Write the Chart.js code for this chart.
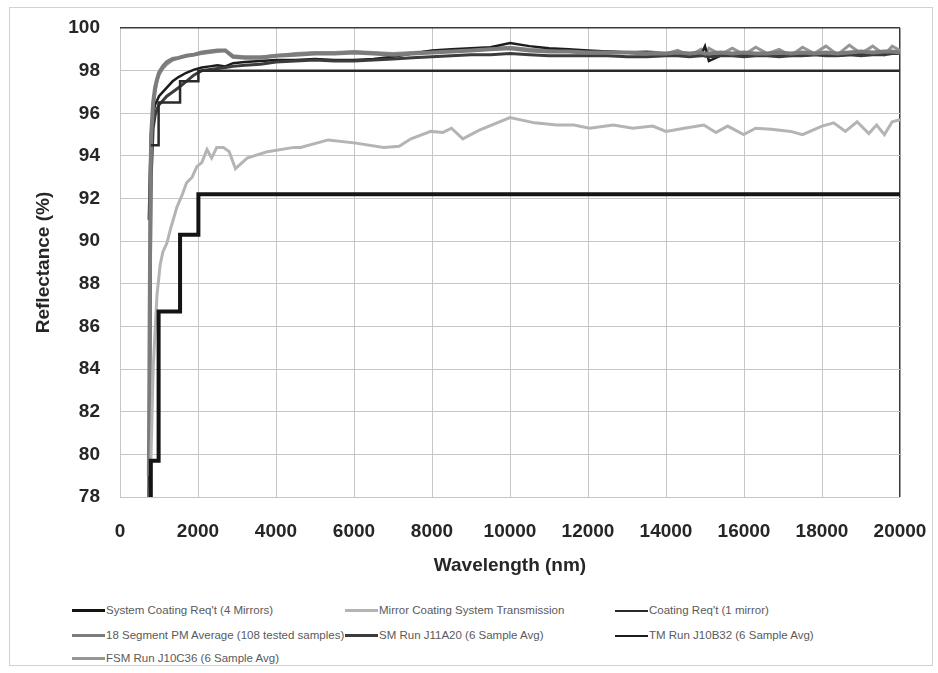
<!DOCTYPE html>
<html>
<head>
<meta charset="utf-8">
<title>Reflectance vs Wavelength</title>
<script src="https://cdn.jsdelivr.net/npm/chart.js@4.4.1/dist/chart.umd.min.js"></script>
<style>
  body { margin: 0; background: #fff; }
  #wrap { position: relative; width: 938px; height: 673px; overflow: hidden; }
  #frame { position: absolute; left: 9px; top: 7px; width: 922px; height: 657px; border: 1px solid #d2d2d2; }
  #reflChart { position: absolute; left: 0; top: 0; }
  .leg { position: absolute; font-family: 'Liberation Sans', Arial, sans-serif; font-size: 11.5px; color: #5a5a5a; white-space: nowrap; line-height: 14px; }
  .leg span.swatch { display: inline-block; width: 33px; vertical-align: middle; margin-right: 1px; }
</style>
</head>
<body>
<div id="wrap">
  <div id="frame"></div>
  <canvas id="reflChart" width="938" height="590"></canvas>
  <div id="legend"></div>
</div>
<script>
// requirement steps (shared wavelengths)
const stepWl = [790, 790, 990, 1540, 2010, 20000];
const req4Mirrors = [78, 79.7, 86.7, 90.3, 92.2, 92.2];
const req1Mirror = [94.5, 94.5, 96.5, 97.5, 98.0, 98.0];

// mirror coating system transmission
const transWl = [770, 800, 850, 900, 950, 1030, 1100, 1200, 1300, 1460, 1600, 1710, 1850, 1970, 2100,
  2230, 2350, 2480, 2650, 2800, 2960, 3260, 3780, 4460, 4630, 5340, 6050, 6760, 7160, 7460,
  7970, 8280, 8500, 8790, 9200, 10000, 10630, 11200, 11640, 12040, 12650, 13150, 13660, 14000, 14470,
  14970, 15280, 15580, 15990, 16300, 16700, 17200, 17500, 18000, 18300, 18600, 18900, 19200, 19400, 19600,
  19800, 20000];
const transVal = [78.0, 80.3, 84.0, 85.8, 87.5, 88.9, 89.5, 89.9, 90.6, 91.6, 92.2, 92.75, 93.0, 93.5, 93.7,
  94.3, 93.9, 94.4, 94.4, 94.2, 93.4, 93.9, 94.2, 94.4, 94.4, 94.75, 94.6, 94.4, 94.45, 94.8,
  95.15, 95.1, 95.3, 94.8, 95.2, 95.8, 95.55, 95.45, 95.45, 95.3, 95.45, 95.3, 95.4, 95.15, 95.3,
  95.45, 95.1, 95.4, 95.0, 95.3, 95.25, 95.15, 95.0, 95.4, 95.55, 95.15, 95.6, 95.05, 95.45, 95.0,
  95.6, 95.7];

// measured runs (shared wavelengths)
const measWl = [
  740, 760, 780, 800, 850, 900, 950, 1000,
  1100, 1200, 1350, 1500, 1700, 1900, 2100, 2300,
  2500, 2700, 2900, 3200, 3600, 4000, 4500, 5000,
  5500, 6000, 6500, 7000, 7500, 8000, 8500, 9000,
  9500, 10000, 10500, 11000, 11500, 12000, 12500, 13000,
  13500, 14000, 14300, 14600, 14900, 15000, 15100, 15400,
  15700, 16000, 16300, 16600, 16900, 17200, 17500, 17800,
  18100, 18400, 18700, 19000, 19300, 19600, 19800, 20000];
const pmAvg = [
  79.0, 86.0, 92.5, 95.0, 96.5, 97.2, 97.6, 97.9,
  98.2, 98.4, 98.55, 98.6, 98.7, 98.75, 98.85, 98.9,
  98.95, 98.95, 98.65, 98.6, 98.6, 98.7, 98.75, 98.8,
  98.8, 98.85, 98.8, 98.75, 98.8, 98.85, 98.9, 98.95,
  99.0, 99.05, 98.95, 98.9, 98.9, 98.85, 98.85, 98.85,
  98.8, 98.8, 98.85, 98.8, 98.85, 98.8, 98.8, 98.85,
  98.8, 98.85, 98.8, 98.8, 98.85, 98.8, 98.85, 98.8,
  98.85, 98.8, 98.85, 98.9, 98.85, 98.9, 98.9, 98.85];
const smRun = [
  78.0, 82.0, 89.0, 93.0, 95.3, 95.9, 96.2, 96.4,
  96.6, 96.8, 97.0, 97.2, 97.5, 97.8, 98.0, 98.05,
  98.1, 98.15, 98.2, 98.25, 98.3, 98.4, 98.45, 98.5,
  98.45, 98.45, 98.5, 98.55, 98.6, 98.65, 98.7, 98.75,
  98.75, 98.8, 98.75, 98.7, 98.7, 98.7, 98.7, 98.65,
  98.65, 98.7, 98.7, 98.65, 98.7, 98.7, 98.65, 98.7,
  98.7, 98.65, 98.7, 98.7, 98.65, 98.7, 98.7, 98.75,
  98.7, 98.7, 98.75, 98.7, 98.75, 98.75, 98.8, 98.8];
const tmRun = [
  91.0, 92.8, 94.2, 95.2, 96.0, 96.4, 96.6, 96.8,
  97.0, 97.2, 97.5, 97.7, 97.9, 98.05, 98.15, 98.2,
  98.25, 98.2, 98.35, 98.4, 98.45, 98.5, 98.5, 98.55,
  98.5, 98.5, 98.55, 98.65, 98.8, 98.95, 99.0, 99.05,
  99.1, 99.3, 99.15, 99.05, 99.0, 98.95, 98.9, 98.85,
  98.85, 98.8, 98.75, 98.8, 98.75, 99.15, 98.45, 98.7,
  98.75, 98.7, 98.75, 98.7, 98.7, 98.75, 98.7, 98.75,
  98.75, 98.7, 98.75, 98.8, 98.75, 98.8, 98.8, 98.85];
const fsmRun = [
  78.0, 84.0, 91.5, 94.5, 96.2, 97.0, 97.5, 97.8,
  98.1, 98.3, 98.5, 98.6, 98.7, 98.75, 98.8, 98.85,
  98.9, 98.95, 98.7, 98.65, 98.65, 98.7, 98.8, 98.85,
  98.85, 98.9, 98.85, 98.8, 98.85, 98.9, 98.95, 99.0,
  99.05, 99.1, 99.0, 98.95, 98.9, 98.85, 98.9, 98.85,
  98.9, 98.8, 98.95, 98.7, 99.0, 98.7, 99.05, 98.75,
  99.05, 98.75, 99.1, 98.8, 99.0, 98.7, 99.1, 98.8,
  99.15, 98.75, 99.2, 98.8, 99.15, 98.75, 99.15, 98.95];

const xTicks = [0, 2000, 4000, 6000, 8000, 10000, 12000, 14000, 16000, 18000, 20000];
const yTicks = [78, 80, 82, 84, 86, 88, 90, 92, 94, 96, 98, 100];

function pts(xs, ys) {
  return xs.map((x, i) => ({ x: x, y: ys[i] }));
}

document.addEventListener('DOMContentLoaded', () => {
  const tickFont = { family: "'Liberation Sans', Arial, sans-serif", size: 19, weight: 'bold' };

  const ctx = document.getElementById('reflChart').getContext('2d');
  const reflChart = new Chart(ctx, {
    type: 'line',
    data: {
      datasets: [
        { label: "System Coating Req't (4 Mirrors)", data: pts(stepWl, req4Mirrors), borderColor: '#141414', borderWidth: 4, stepped: 'before' },
        { label: 'Mirror Coating System Transmission', data: pts(transWl, transVal), borderColor: '#b4b4b4', borderWidth: 3 },
        { label: "Coating Req't (1 mirror)", data: pts(stepWl, req1Mirror), borderColor: '#2a2a2a', borderWidth: 2.5, stepped: 'before' },
        { label: '18 Segment PM Average (108 tested samples)', data: pts(measWl, pmAvg), borderColor: '#7c7c7c', borderWidth: 4 },
        { label: 'SM Run J11A20 (6 Sample Avg)', data: pts(measWl, smRun), borderColor: '#3c3c3c', borderWidth: 3 },
        { label: 'TM Run J10B32 (6 Sample Avg)', data: pts(measWl, tmRun), borderColor: '#1c1c1c', borderWidth: 2.5 },
        { label: 'FSM Run J10C36 (6 Sample Avg)', data: pts(measWl, fsmRun), borderColor: '#969696', borderWidth: 3 }
      ]
    },
    options: {
      responsive: false,
      animation: false,
      events: [],
      elements: { point: { radius: 0 }, line: { tension: 0 } },
      layout: { padding: { top: 28, right: 38, left: 0, bottom: 0 } },
      plugins: { legend: { display: false }, tooltip: { enabled: false } },
      scales: {
        x: {
          type: 'linear',
          min: 0,
          max: 20000,
          afterBuildTicks: (scale) => { scale.ticks = xTicks.map(v => ({ value: v })); },
          afterFit: (scale) => { scale.height = 93; scale.paddingLeft = 0; scale.paddingRight = 0; },
          ticks: { color: '#262626', font: tickFont, padding: 23, maxRotation: 0, callback: (v) => String(v) },
          grid: { drawTicks: false, color: (c) => c.tick && c.tick.value === 20000 ? '#3a3a3a' : '#c6c6c6', lineWidth: (c) => c.tick && c.tick.value === 20000 ? 1.5 : 1 },
          border: { display: false },
          title: { display: true, text: 'Wavelength (nm)', color: '#262626', font: tickFont, padding: { top: 0, bottom: 13 } }
        },
        y: {
          min: 78,
          max: 100,
          afterBuildTicks: (scale) => { scale.ticks = yTicks.map(v => ({ value: v })); },
          afterFit: (scale) => { scale.width = 120; scale.paddingTop = 0; scale.paddingBottom = 0; },
          ticks: { color: '#262626', font: tickFont, padding: 20 },
          grid: { drawTicks: false, color: (c) => c.tick && c.tick.value === 100 ? '#3a3a3a' : '#c6c6c6', lineWidth: (c) => c.tick && c.tick.value === 100 ? 1.5 : 1 },
          border: { display: false },
          title: { display: true, text: 'Reflectance (%)', color: '#262626', font: tickFont, padding: { top: 32, bottom: 0 } }
        }
      }
    }
  });

  // legend laid out in three columns like the original
  const colX = [72, 345, 615];
  const rowY = [603, 628, 651];
  const legend = document.getElementById('legend');
  reflChart.data.datasets.forEach((ds, i) => {
    const item = document.createElement('div');
    item.className = 'leg';
    item.style.left = colX[i % 3] + 'px';
    item.style.top = rowY[Math.floor(i / 3)] + 'px';
    const sw = document.createElement('span');
    sw.className = 'swatch';
    sw.style.borderTop = Math.min(ds.borderWidth, 3) + 'px solid ' + ds.borderColor;
    item.appendChild(sw);
    item.appendChild(document.createTextNode(ds.label));
    legend.appendChild(item);
  });
});
</script>
</body>
</html>
